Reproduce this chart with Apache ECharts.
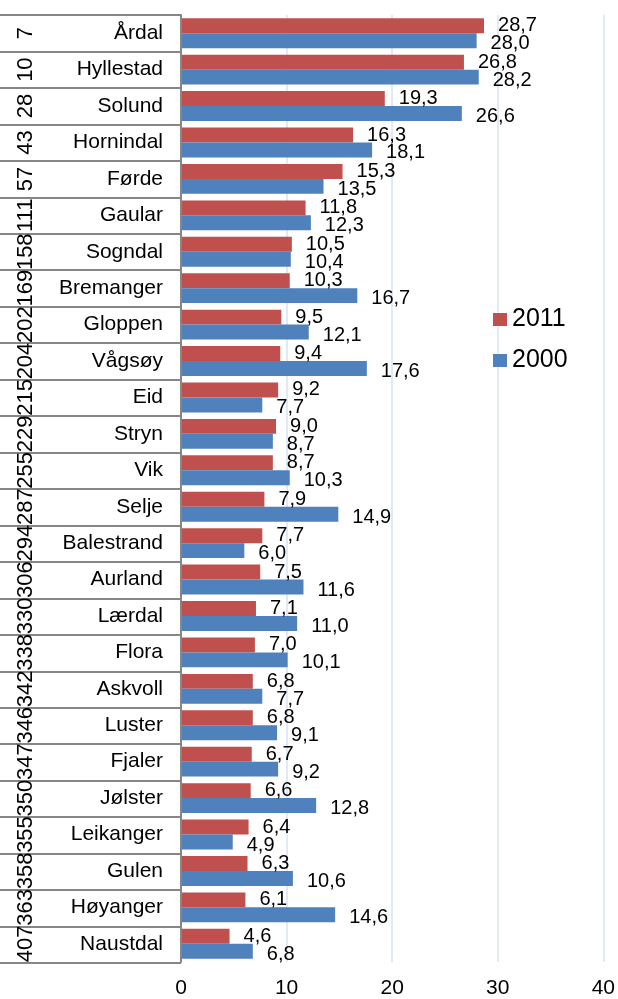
<!DOCTYPE html>
<html>
<head>
<meta charset="utf-8">
<script src="https://cdn.jsdelivr.net/npm/echarts@6/dist/echarts.min.js"></script>
<style>
  html, body { margin: 0; padding: 0; background: #fff; }
  #chart { width: 618px; height: 999px; }
</style>
</head>
<body>
<div id="chart"></div>
<script>
// kommuner, rangering og verdier
const ranks = ['7', '10', '28', '43', '57', '111', '158', '169', '202', '204', '215', '229', '255',
  '287', '294', '306', '330', '338', '342', '346', '347', '350', '355', '358', '363', '407'];
const names = ['Årdal', 'Hyllestad', 'Solund', 'Hornindal', 'Førde', 'Gaular', 'Sogndal', 'Bremanger',
  'Gloppen', 'Vågsøy', 'Eid', 'Stryn', 'Vik', 'Selje', 'Balestrand', 'Aurland', 'Lærdal', 'Flora',
  'Askvoll', 'Luster', 'Fjaler', 'Jølster', 'Leikanger', 'Gulen', 'Høyanger', 'Naustdal'];
const values2011 = [28.7, 26.8, 19.3, 16.3, 15.3, 11.8, 10.5, 10.3, 9.5, 9.4, 9.2, 9.0, 8.7,
  7.9, 7.7, 7.5, 7.1, 7.0, 6.8, 6.8, 6.7, 6.6, 6.4, 6.3, 6.1, 4.6];
const values2000 = [28.0, 28.2, 26.6, 18.1, 13.5, 12.3, 10.4, 16.7, 12.1, 17.6, 7.7, 8.7, 10.3,
  14.9, 6.0, 11.6, 11.0, 10.1, 7.7, 9.1, 9.2, 12.8, 4.9, 10.6, 14.6, 6.8];
const xTicks = { min: 0, max: 40, interval: 10 };

const font = '"Liberation Sans", Arial, sans-serif';
const fmt = (p) => p.value.toFixed(1).replace('.', ',');

let mcharts = echarts.init(document.querySelector('#chart'));

let option = {
  animation: false,
  textStyle: { fontFamily: font },
  legend: {
    data: ['2011', '2000'],
    orient: 'vertical',
    left: 488,
    top: 302,
    itemWidth: 14,
    itemHeight: 13,
    itemGap: 16,
    icon: 'rect',
    textStyle: { fontSize: 25, color: '#000', fontFamily: font }
  },
  grid: [
    { left: 181, right: 13, top: 15, bottom: 36, containLabel: false },
    // skillelinjer i etikettfeltet
    { left: 0, width: 181, top: 15, bottom: 36, containLabel: false }
  ],
  xAxis: [
    {
      type: 'value',
      min: xTicks.min,
      max: xTicks.max,
      interval: xTicks.interval,
      axisLine: { show: false },
      axisTick: { show: false },
      splitLine: { lineStyle: { color: '#D9E2F3', width: 1.5 } },
      axisLabel: { fontSize: 21, color: '#000', margin: 16, fontFamily: font }
    },
    { gridIndex: 1, type: 'value', show: false }
  ],
  yAxis: [
    {
      type: 'category',
      data: names,
      inverse: true,
      z: 5,
      axisLine: { show: true, lineStyle: { color: '#868686', width: 2 } },
      axisTick: { show: false },
      axisLabel: { interval: 0, fontSize: 21, color: '#000', margin: 18, fontFamily: font }
    },
    {
      type: 'category',
      data: ranks,
      inverse: true,
      position: 'left',
      axisLine: { show: false },
      axisTick: { show: false },
      axisLabel: { interval: 0, fontSize: 22, color: '#000', rotate: 90, margin: 144, fontFamily: font }
    },
    {
      gridIndex: 1,
      type: 'category',
      data: names,
      inverse: true,
      axisLine: { show: false },
      axisTick: { show: false },
      axisLabel: { show: false },
      splitLine: { show: true, interval: 0, lineStyle: { color: '#868686', width: 2 } }
    }
  ],
  series: [
    {
      name: '2011',
      type: 'bar',
      data: values2011,
      barGap: '0%',
      barCategoryGap: '18%',
      itemStyle: { color: '#C0504D' },
      label: { show: true, position: 'right', distance: 14, fontSize: 20, color: '#000', formatter: fmt, fontFamily: font }
    },
    {
      name: '2000',
      type: 'bar',
      data: values2000,
      barGap: '0%',
      barCategoryGap: '18%',
      itemStyle: { color: '#4F81BD' },
      label: { show: true, position: 'right', distance: 14, offset: [0, 3], fontSize: 20, color: '#000', formatter: fmt, fontFamily: font }
    }
  ]
};

mcharts.setOption(option);
</script>
</body>
</html>
